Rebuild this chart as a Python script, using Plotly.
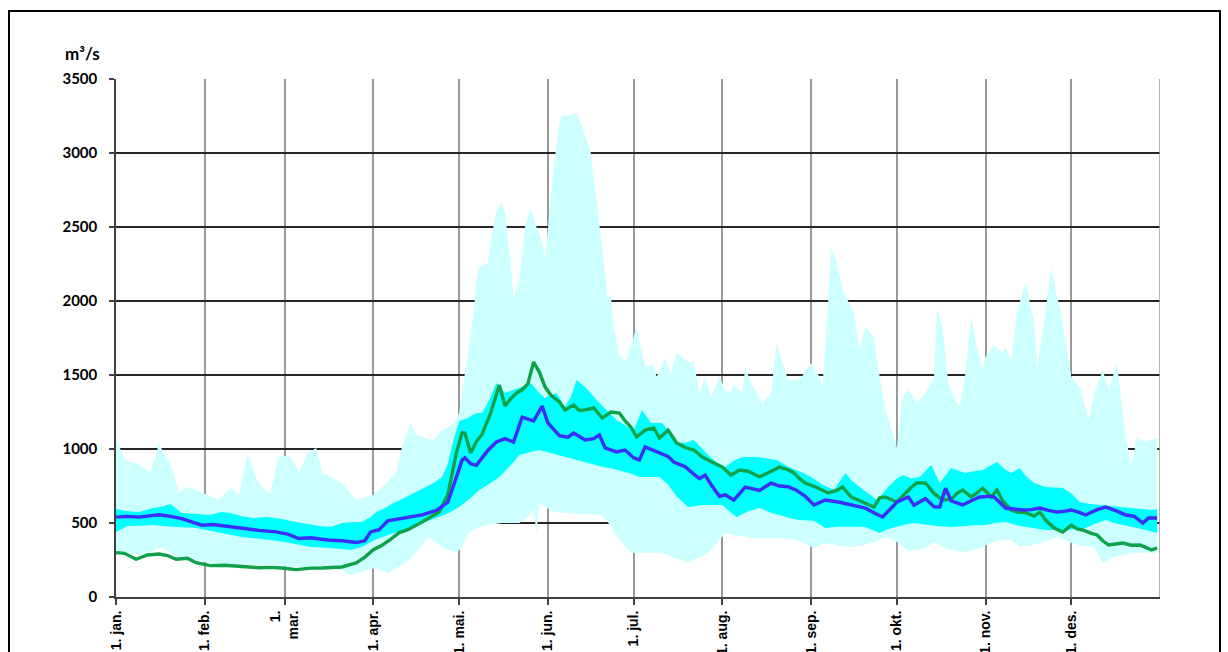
import plotly.graph_objects as go

# Day-of-year positions of month starts and their labels
month_days = [0, 31, 59, 90, 120, 151, 181, 212, 243, 273, 304, 334]
month_labels = ["1. jan.", "1. feb.", "1.<br>mar.", "1. apr.", "1. mai.", "1. jun.",
                "1. jul.", "1. aug.", "1. sep.", "1. okt.", "1. nov.", "1. des."]

# Highest observed flow per day (m3/s)
max_days = [0, 2, 3, 6, 8, 12, 14, 15, 17, 18, 20, 22, 25, 28, 32, 36, 40, 43, 46, 49, 52, 54, 57, 61,
            64, 67, 70, 72, 76, 79, 84, 88, 90, 95, 98, 100, 103, 105, 108, 111, 114, 118, 120, 122,
            124, 125, 126, 127, 130, 131, 133, 135, 136, 138, 139, 141, 143, 145, 147, 149, 150, 151,
            153, 155, 156, 158, 161, 163, 166, 168, 170, 172, 173, 174, 176, 178, 181, 182, 184, 185,
            188, 189, 192, 194, 196, 200, 202, 204, 206, 208, 211, 213, 215, 216, 219, 220, 222, 224,
            226, 229, 231, 233, 235, 239, 243, 246, 247, 249, 250, 252, 254, 257, 258, 260, 262, 265,
            267, 269, 271, 273, 275, 277, 280, 283, 286, 287, 289, 291, 293, 295, 297, 299, 301, 303,
            304, 307, 310, 311, 313, 315, 318, 321, 322, 324, 327, 329, 330, 332, 334, 337, 340, 342,
            345, 347, 350, 351, 353, 355, 357, 360, 362, 364]
max_flow = [1074, 980, 926, 912, 892, 845, 960, 1041, 960, 939, 838, 703, 743, 723, 689, 655, 736, 689,
            973, 804, 720, 703, 959, 946, 845, 973, 1007, 845, 800, 770, 655, 680, 689, 777, 845, 1014,
            1176, 1095, 1075, 1061, 1128, 1162, 1243, 1514, 1800, 1919, 2142, 2230, 2257, 2400, 2615,
            2662, 2595, 2257, 2007, 2142, 2500, 2628, 2500, 2392, 2277, 2500, 2905, 3203, 3257, 3250,
            3270, 3176, 3000, 2682, 2345, 2007, 2054, 1824, 1635, 1588, 1757, 1824, 1649, 1554, 1568,
            1486, 1615, 1514, 1649, 1588, 1588, 1378, 1486, 1351, 1486, 1400, 1378, 1432, 1378, 1554,
            1450, 1378, 1311, 1378, 1716, 1581, 1466, 1466, 1581, 1486, 1419, 2000, 2365, 2257, 2074,
            1959, 1919, 1669, 1824, 1757, 1486, 1264, 1128, 1007, 1351, 1399, 1311, 1378, 1486, 1950,
            1824, 1446, 1350, 1284, 1514, 1892, 1689, 1534, 1622, 1703, 1649, 1689, 1601, 1926, 2128,
            1851, 1554, 1784, 2223, 2027, 1959, 1736, 1486, 1419, 1196, 1378, 1534, 1399, 1581, 1399,
            1081, 892, 1074, 1047, 1061, 1074]

# Lowest observed flow per day (m3/s)
min_days = [0, 4, 8, 12, 16, 19, 21, 25, 28, 33, 38, 44, 50, 56, 61, 67, 72, 76, 79, 82, 86, 88, 91,
            95, 98, 102, 104, 107, 109, 112, 116, 119, 121, 123, 127, 131, 135, 141, 144, 146, 147,
            148, 153, 157, 162, 166, 170, 173, 176, 179, 181, 186, 191, 196, 200, 204, 207, 211, 213,
            217, 222, 228, 234, 239, 244, 248, 252, 257, 261, 265, 269, 272, 274, 277, 279, 283, 286,
            290, 294, 297, 300, 303, 306, 309, 313, 316, 320, 323, 326, 329, 332, 334, 338, 342, 345,
            349, 352, 356, 360, 364]
min_flow = [304, 300, 284, 300, 338, 300, 270, 262, 250, 230, 222, 216, 218, 216, 205, 203, 203, 195,
            182, 149, 169, 185, 196, 162, 196, 240, 280, 350, 405, 365, 318, 297, 338, 432, 473, 490,
            500, 500, 540, 588, 432, 635, 574, 570, 560, 560, 550, 480, 385, 320, 297, 300, 297, 260,
            236, 270, 297, 385, 432, 420, 399, 395, 399, 380, 330, 365, 350, 338, 350, 372, 405, 385,
            360, 310, 318, 331, 372, 330, 310, 304, 318, 338, 370, 385, 385, 338, 350, 365, 380, 405,
            385, 365, 345, 338, 230, 270, 285, 297, 300, 297]

# Upper quartile of daily flow (m3/s)
q75_days = [0, 4, 8, 13, 16, 19, 23, 28, 33, 37, 40, 44, 48, 53, 58, 62, 67, 71, 75, 79, 83, 86, 89,
            91, 94, 97, 100, 103, 107, 111, 114, 116, 118, 120, 123, 126, 128, 131, 133, 136, 139, 142,
            145, 148, 150, 154, 157, 159, 161, 164, 169, 172, 175, 178, 181, 184, 187, 191, 196, 199,
            202, 205, 207, 210, 213, 216, 219, 224, 228, 231, 234, 236, 240, 243, 247, 251, 255, 257,
            260, 263, 266, 270, 273, 275, 278, 281, 283, 285, 288, 292, 295, 297, 300, 303, 308, 311,
            313, 316, 318, 321, 325, 328, 331, 334, 337, 340, 344, 348, 353, 358, 362, 364]
q75_flow = [595, 580, 574, 601, 610, 628, 568, 560, 554, 575, 568, 545, 534, 540, 527, 510, 493, 480,
            473, 500, 505, 507, 540, 574, 600, 635, 660, 689, 730, 770, 811, 900, 1061, 1190, 1210,
            1243, 1243, 1350, 1446, 1378, 1400, 1419, 1446, 1378, 1345, 1378, 1284, 1350, 1466, 1419,
            1311, 1250, 1196, 1160, 1128, 1264, 1176, 1176, 1047, 1040, 1061, 1000, 959, 910, 878, 920,
            946, 946, 935, 926, 890, 871, 840, 811, 760, 723, 838, 790, 743, 700, 655, 743, 800, 824,
            800, 811, 850, 892, 770, 871, 850, 838, 850, 858, 912, 860, 838, 871, 820, 770, 743, 740,
            736, 700, 642, 630, 622, 615, 601, 595, 588, 595]

# Lower quartile of daily flow (m3/s)
q25_days = [0, 4, 8, 13, 17, 21, 28, 32, 35, 40, 44, 49, 54, 58, 61, 65, 68, 72, 75, 79, 82, 86, 89,
            91, 94, 97, 100, 103, 107, 110, 113, 117, 120, 124, 127, 131, 134, 138, 141, 145, 148, 151,
            155, 158, 162, 166, 170, 173, 176, 180, 183, 187, 190, 193, 196, 200, 205, 209, 212, 215,
            217, 221, 225, 229, 232, 236, 239, 244, 248, 252, 255, 259, 262, 265, 267, 270, 273, 276,
            279, 283, 287, 292, 297, 300, 304, 307, 311, 314, 318, 321, 325, 328, 332, 336, 339, 343,
            346, 349, 353, 356, 360, 364]
q25_flow = [439, 480, 482, 486, 478, 473, 466, 450, 439, 420, 405, 395, 385, 375, 365, 350, 338, 335,
            331, 325, 318, 338, 370, 390, 410, 432, 450, 473, 500, 520, 540, 575, 608, 670, 723, 770,
            811, 890, 959, 980, 993, 980, 955, 940, 925, 900, 880, 870, 858, 835, 811, 811, 811, 760,
            680, 608, 622, 620, 622, 570, 541, 580, 601, 570, 554, 530, 520, 515, 466, 475, 473, 475,
            473, 450, 432, 460, 473, 490, 500, 490, 480, 473, 480, 485, 486, 500, 507, 490, 473, 465,
            453, 453, 453, 460, 466, 500, 520, 500, 486, 470, 453, 432]

# Median daily flow (m3/s)
median_days = [0, 4, 8, 12, 15, 19, 23, 27, 30, 34, 38, 44, 50, 56, 60, 64, 68, 74, 79, 84, 87, 89, 92,
               95, 99, 103, 107, 112, 116, 119, 121, 122, 124, 126, 130, 133, 136, 139, 142, 146, 149,
               151, 153, 155, 158, 160, 164, 167, 169, 171, 175, 178, 181, 183, 185, 188, 190, 193, 195,
               199, 202, 204, 206, 208, 211, 213, 216, 220, 225, 229, 232, 235, 238, 241, 244, 248, 253,
               257, 262, 265, 268, 271, 273, 277, 279, 283, 286, 288, 290, 292, 296, 299, 302, 305, 307,
               311, 314, 317, 320, 323, 326, 329, 332, 334, 337, 339, 343, 346, 350, 353, 356, 359, 361,
               364]
median_flow = [540, 545, 540, 548, 556, 545, 530, 505, 485, 490, 480, 462, 450, 440, 425, 395, 400, 385,
               380, 368, 380, 440, 455, 515, 530, 540, 555, 585, 640, 810, 925, 940, 900, 890, 990, 1047,
               1070, 1047, 1216, 1190, 1290, 1176, 1130, 1090, 1080, 1108, 1061, 1070, 1095, 1007, 980,
               993, 940, 926, 1014, 990, 975, 950, 912, 880, 830, 800, 824, 760, 680, 690, 655, 743, 720,
               770, 750, 745, 720, 680, 622, 655, 640, 622, 600, 570, 541, 600, 640, 676, 620, 665, 610,
               608, 735, 650, 622, 650, 676, 680, 676, 601, 595, 588, 590, 601, 585, 574, 580, 588, 570,
               554, 590, 608, 580, 554, 545, 500, 534, 534]

# Flow in the current year (m3/s)
year_days = [0, 3, 7, 11, 15, 18, 21, 25, 28, 33, 38, 42, 46, 50, 54, 58, 63, 68, 72, 76, 79, 84, 87,
             90, 93, 96, 99, 102, 105, 107, 110, 113, 116, 119, 121, 122, 124, 126, 128, 131, 134, 136,
             138, 140, 142, 144, 146, 148, 150, 152, 155, 157, 160, 162, 164, 167, 170, 173, 176, 178,
             180, 182, 185, 188, 190, 193, 196, 199, 202, 205, 209, 212, 215, 218, 221, 225, 228, 230,
             232, 235, 237, 239, 241, 245, 249, 252, 254, 257, 261, 265, 267, 269, 273, 276, 278, 280,
             283, 286, 289, 292, 294, 296, 299, 301, 303, 306, 308, 310, 313, 315, 318, 321, 323, 325,
             328, 331, 334, 336, 338, 341, 343, 345, 347, 350, 352, 355, 358, 360, 362, 364]
year_flow = [300, 295, 255, 284, 290, 280, 255, 262, 232, 212, 215, 210, 205, 198, 200, 196, 185, 195,
             196, 200, 203, 230, 270, 320, 350, 390, 435, 455, 490, 507, 540, 574, 690, 973, 1110, 1108,
             973, 1050, 1100, 1243, 1432, 1290, 1340, 1378, 1400, 1440, 1588, 1520, 1420, 1365, 1318,
             1264, 1297, 1260, 1264, 1277, 1209, 1250, 1243, 1190, 1149, 1081, 1128, 1142, 1074, 1128,
             1041, 1010, 993, 946, 905, 878, 824, 858, 850, 811, 840, 858, 878, 860, 838, 800, 770, 740,
             703, 720, 743, 676, 640, 608, 670, 676, 642, 703, 740, 770, 770, 700, 655, 660, 700, 723,
             676, 703, 736, 676, 723, 650, 588, 574, 570, 547, 574, 520, 466, 439, 486, 460, 453, 430,
             419, 380, 351, 360, 365, 350, 351, 335, 318, 331]

# Plot-area geometry in pixels (figure is 1228 x 652)
W, H = 1228, 652
L, R, T, B = 116, 68, 79, 55
pw, ph = W - L - R, H - T - B


def px_x(p):
    return (p - L) / pw


def px_y(p):
    return (H - B - p) / ph


def band(up_x, up_y, lo_x, lo_y):
    return list(up_x) + list(reversed(lo_x)), list(up_y) + list(reversed(lo_y))


fig = go.Figure()

bx, by = band(max_days, max_flow, min_days, min_flow)
fig.add_trace(go.Scatter(x=bx, y=by, fill="toself", fillcolor="#CCFFFF",
                         line=dict(width=0), mode="lines", hoverinfo="skip", showlegend=False))

qx, qy = band(q75_days, q75_flow, q25_days, q25_flow)
fig.add_trace(go.Scatter(x=qx, y=qy, fill="toself", fillcolor="#00FFFF",
                         line=dict(width=0), mode="lines", hoverinfo="skip", showlegend=False))

fig.add_trace(go.Scatter(x=year_days, y=year_flow, mode="lines",
                         line=dict(color="#10A24A", width=3.4), showlegend=False))
fig.add_trace(go.Scatter(x=median_days, y=median_flow, mode="lines",
                         line=dict(color="#3A2EFA", width=3.4), showlegend=False))

fig.update_layout(
    width=W, height=H,
    margin=dict(l=L, r=R, t=T, b=B, autoexpand=False),
    paper_bgcolor="white", plot_bgcolor="white",
    showlegend=False,
    xaxis=dict(
        range=[0, 365], tickmode="array", tickvals=month_days, ticktext=month_labels,
        tickangle=-90, ticks="outside", ticklen=6, tickcolor="#404040", tickwidth=1.5,
        showgrid=True, gridcolor="#999999", gridwidth=1.5, automargin=False,
        showline=True, linecolor="#404040", linewidth=2, zeroline=False,
        tickfont=dict(family="Liberation Sans, Arial, sans-serif", size=14, color="black", weight="bold"),
    ),
    yaxis=dict(
        range=[0, 3500], tickmode="array", tickvals=list(range(0, 3501, 500)),
        ticks="outside", ticklen=5, tickcolor="#404040", tickwidth=1.5, ticklabelstandoff=9,
        showgrid=True, gridcolor="#262626", gridwidth=1.5, automargin=False,
        showline=True, linecolor="#404040", linewidth=1.5, zeroline=False,
        tickfont=dict(family="Lato, Liberation Sans, sans-serif", size=15, color="black", weight="bold"),
    ),
    annotations=[dict(
        text="m³/s", xref="paper", yref="paper", x=px_x(63), y=px_y(53),
        xanchor="left", yanchor="middle", showarrow=False,
        font=dict(family="Lato, Liberation Sans, sans-serif", size=17, color="black", weight="bold"),
    )],
    shapes=[
        # right edge of the plot area
        dict(type="line", xref="x", yref="paper", x0=365, x1=365, y0=0, y1=1,
             line=dict(color="#999999", width=1.5), layer="above"),
        # outer chart frame
        dict(type="rect", xref="paper", yref="paper",
             x0=px_x(9), x1=px_x(1220), y0=px_y(680), y1=px_y(11),
             line=dict(color="black", width=2), fillcolor="rgba(0,0,0,0)", layer="above"),
    ],
)

fig.write_html("out.html")
